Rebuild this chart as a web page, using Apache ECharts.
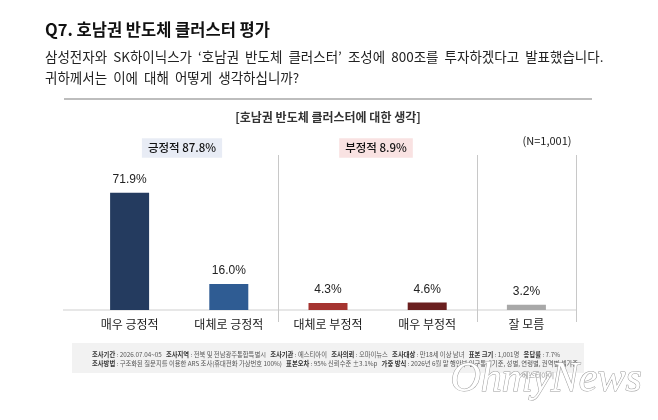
<!DOCTYPE html>
<html>
<head>
<meta charset="utf-8">
<script src="https://cdn.jsdelivr.net/npm/echarts@6/dist/echarts.min.js"></script>
<style>
  html, body { margin: 0; padding: 0; background: #fff; }
  #chart { width: 658px; height: 420px; }
</style>
</head>
<body>
<div id="chart"></div>
<script>
const categories = ["매우 긍정적", "대체로 긍정적", "대체로 부정적", "매우 부정적", "잘 모름"];
const values = [71.9, 16.0, 4.3, 4.6, 3.2];
const positiveTotal = 87.8;
const negativeTotal = 8.9;
const sampleSize = "1,001";

const barColors = ["#243b5f", "#2f5c93", "#a53430", "#6a1f1f", "#a8a8a8"];
const font = "Noto Sans CJK KR";

let chartDom = document.getElementById("chart");
let myChart = echarts.init(chartDom);

const footLine1 =
  "{b|조사기간} : 2026.07.04~05   {b|조사지역} : 전북 및 전남광주통합특별시   {b|조사기관} : 에스티아이   " +
  "{b|조사의뢰} : 오마이뉴스   {b|조사대상} : 만18세 이상 남녀   {b|표본 크기} : 1,001명   {b|응답률} : 7.7%";
const footLine2 =
  "{b|조사방법} : 구조화된 질문지를 이용한 ARS 조사(휴대전화 가상번호 100%)   {b|표본오차} : 95% 신뢰수준 ±3.1%p   " +
  "{b|가중 방식} : 2026년 6월 말 행안부 인구통계기준, 성별, 연령별, 권역별 셀가중";

const options = {
  animation: false,
  textStyle: { fontFamily: font },
  grid: {
    left: 80,
    right: 82,
    top: 155,
    bottom: 110,
  },
  xAxis: {
    type: "category",
    data: categories,
    axisLine: { show: false },
    axisTick: {
      show: true,
      length: 12,
      interval: (index) => index === 2 || index === 4,
      lineStyle: { color: "#c8c8c8" },
    },
    splitLine: {
      show: true,
      interval: (index) => index === 2 || index === 4,
      lineStyle: { color: "#c8c8c8" },
    },
    axisLabel: {
      interval: 0,
      margin: 8,
      fontSize: 12,
      color: "#222",
      fontFamily: font,
    },
  },
  yAxis: {
    type: "value",
    min: 0,
    max: 95,
    show: false,
    splitLine: { show: false },
  },
  series: [
    {
      type: "bar",
      barWidth: 39,
      data: values.map((v, i) => ({ value: v, itemStyle: { color: barColors[i] } })),
      label: {
        show: true,
        position: "top",
        distance: 7,
        fontSize: 12,
        color: "#222",
        fontFamily: "Liberation Sans",
        formatter: (p) => p.value.toFixed(1) + "%",
      },
    },
  ],
  graphic: [
    // title block
    {
      type: "text", left: 45, top: 21,
      style: { text: "Q7. 호남권 반도체 클러스터 평가", font: "bold 16.5px " + font, fill: "#111" },
    },
    {
      type: "text", left: 45, top: 50,
      style: {
        text: "삼성전자와  SK하이닉스가  ‘호남권  반도체  클러스터’  조성에  800조를  투자하겠다고  발표했습니다.",
        font: "13.5px " + font, fill: "#222",
      },
    },
    {
      type: "text", left: 45, top: 71,
      style: { text: "귀하께서는  이에  대해  어떻게  생각하십니까?", font: "13.5px " + font, fill: "#222" },
    },
    {
      type: "line",
      shape: { x1: 64, y1: 99, x2: 592, y2: 99 },
      style: { stroke: "#bdbdbd", lineWidth: 2 },
    },
    {
      type: "text", x: 328, y: 117,
      style: {
        text: "[호남권 반도체 클러스터에 대한 생각]",
        font: "bold 12px " + font, fill: "#333",
        align: "center", verticalAlign: "middle",
      },
    },
    // group badges
    {
      type: "text", x: 182, y: 148,
      style: {
        text: "긍정적 " + positiveTotal.toFixed(1) + "%",
        font: "500 11.5px " + font, fill: "#111",
        align: "center", verticalAlign: "middle",
        backgroundColor: "#e8ecf5", padding: [4, 6, 4, 6],
      },
    },
    {
      type: "text", x: 376, y: 148,
      style: {
        text: "부정적 " + negativeTotal.toFixed(1) + "%",
        font: "500 11.5px " + font, fill: "#111",
        align: "center", verticalAlign: "middle",
        backgroundColor: "#f9e2e2", padding: [4, 6, 4, 6],
      },
    },
    {
      type: "text", x: 547, y: 141,
      style: {
        text: "(N=" + sampleSize + ")",
        font: "11px " + font, fill: "#222",
        align: "center", verticalAlign: "middle",
      },
    },
    // baseline
    {
      type: "line",
      shape: { x1: 63, y1: 310, x2: 577, y2: 310 },
      style: { stroke: "#cfcfcf", lineWidth: 1 },
    },
    // footnote box
    {
      type: "rect",
      shape: { x: 72, y: 343, width: 512, height: 30 },
      style: { fill: "#f2f2f2" },
    },
    {
      type: "text", left: 92, top: 351,
      style: {
        text: footLine1,
        font: "6.3px " + font, fill: "#555",
        rich: { b: { fontWeight: "bold", fontSize: 6.3, fill: "#333", fontFamily: font } },
      },
    },
    {
      type: "text", left: 92, top: 360,
      style: {
        text: footLine2,
        font: "6.3px " + font, fill: "#555",
        rich: { b: { fontWeight: "bold", fontSize: 6.3, fill: "#333", fontFamily: font } },
      },
    },
    // watermark
    {
      type: "text", left: 450, top: 358,
      style: {
        text: "OhmyNews",
        font: "italic 42px 'Liberation Serif'",
        fill: "#ffffff", stroke: "#9a9a9a", lineWidth: 1,
      },
    },
    {
      type: "text", left: 522, top: 372,
      style: { text: "에스티아이", font: "7px " + font, fill: "#999" },
    },
  ],
};
myChart.setOption(options);
</script>
</body>
</html>
